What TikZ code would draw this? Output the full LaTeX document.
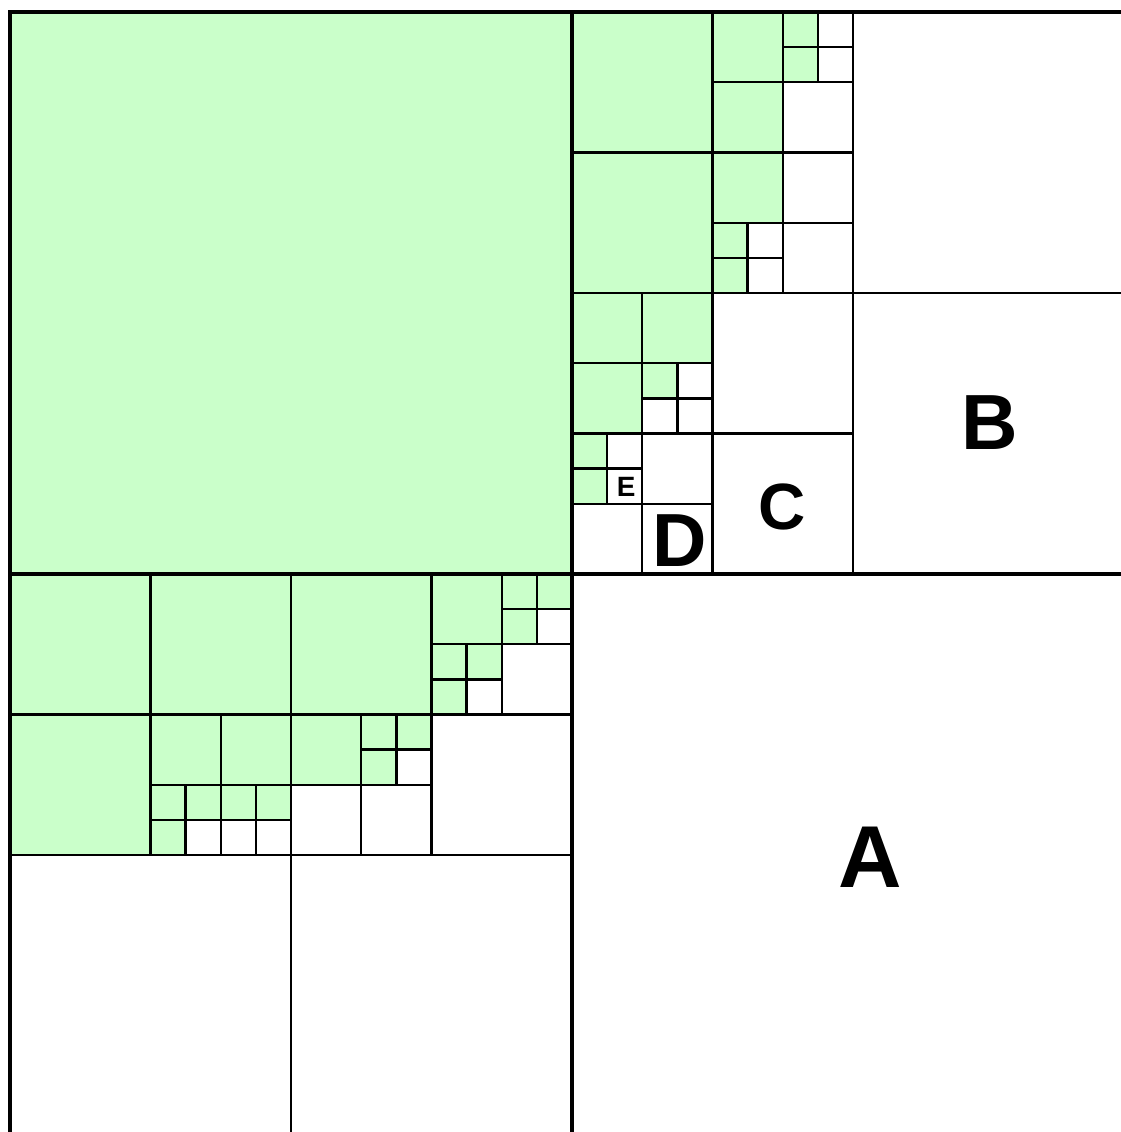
\documentclass[tikz,border=0pt]{standalone}
\usepackage{fontspec}
\setmainfont{Liberation Sans}
\definecolor{cellgreen}{RGB}{202,255,202}

\begin{document}
\begin{tikzpicture}[
    x=1cm,
    y=-1cm,
    cell/.style={draw, line width=0.95pt},
    full/.style={cell, fill=cellgreen},
    empty/.style={cell, fill=white},
    border/.style={line width=2pt},
    letter/.style={font=\bfseries, inner sep=0pt}
]
\useasboundingbox (-0.142,-0.171) rectangle (15.815,15.943);
\clip (-0.142,-0.171) rectangle (15.815,15.943);

% occupied cells
\foreach \cx/\cy/\cs in {0/0/8, 8/0/2, 8/2/2, 10/0/1, 11/0/.5, 11/.5/.5,
    10/1/1, 10/2/1, 10/3/.5, 10/3.5/.5, 8/4/1, 9/4/1, 8/5/1, 9/5/.5,
    8/6/.5, 8/6.5/.5, 0/8/2, 2/8/2, 0/10/2, 2/10/1, 3/10/1,
    2/11/.5, 2.5/11/.5, 2/11.5/.5, 3/11/.5, 3.5/11/.5,
    4/8/2, 6/8/1, 7/8/.5, 7.5/8/.5, 7/8.5/.5, 6/9/.5, 6.5/9/.5, 6/9.5/.5,
    4/10/1, 5/10/.5, 5.5/10/.5, 5/10.5/.5}
  \draw[full] (\cx,\cy) rectangle ++(\cs,\cs);

% free cells
\foreach \cx/\cy/\cs in {11.5/0/.5, 11.5/.5/.5, 11/1/1, 11/2/1, 10.5/3/.5,
    10.5/3.5/.5, 11/3/1, 12/0/4, 12/4/4, 9.5/5/.5, 9/5.5/.5, 9.5/5.5/.5,
    8.5/6/.5, 8.5/6.5/.5, 9/6/1, 8/7/1, 9/7/1, 10/4/2, 10/6/2,
    2.5/11.5/.5, 3/11.5/.5, 3.5/11.5/.5, 7.5/8.5/.5, 6.5/9.5/.5, 7/9/1,
    5.5/10.5/.5, 4/11/1, 5/11/1, 6/10/2, 0/12/4, 4/12/4, 8/8/8}
  \draw[empty] (\cx,\cy) rectangle ++(\cs,\cs);

\draw[border] (0,16) -- (0,0) -- (16,0);
\draw[border] (8,0) -- (8,16);
\draw[border] (0,8) -- (16,8);

\node[letter, font=\fontsize{35.6}{36}\selectfont\bfseries] (labA) at (12.24,12.03) {A};
\node[letter, font=\fontsize{31.7}{32}\selectfont\bfseries] (labB) at (13.95,5.84) {B};
\node[letter, font=\fontsize{26.5}{27}\selectfont\bfseries] (labC) at (10.99,7.04) {C};
\node[letter, font=\fontsize{30.5}{31}\selectfont\bfseries] (labD) at (9.54,7.52) {D};
\node[letter, font=\fontsize{11.3}{12}\selectfont\bfseries] (labE) at (8.77,6.76) {E};
\end{tikzpicture}
\end{document}
